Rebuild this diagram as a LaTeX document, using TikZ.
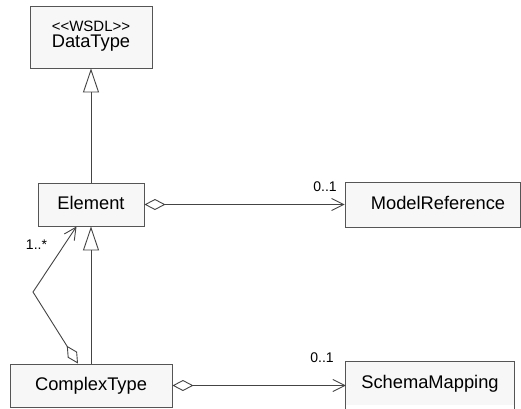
\documentclass[tikz,border=0pt]{standalone}
\usepackage{fontspec}
\setmainfont{Liberation Sans}
\usetikzlibrary{arrows.meta}
\definecolor{boxbg}{HTML}{F7F7F7}
\definecolor{edge}{HTML}{555555}
\definecolor{wire}{HTML}{444444}
\begin{document}
\begin{tikzpicture}[x=1pt,y=-1pt,
  classfont/.style={font=\fontsize{18.3}{21}\selectfont},
  classbox/.style={draw=edge, fill=boxbg, line width=0.9pt, inner sep=0pt,
    classfont, text height=13.5pt, text depth=4pt},
  openbox/.style={fill=boxbg, inner sep=0pt,
    classfont, text height=13.5pt, text depth=4pt},
  mult/.style={inner sep=0pt, font=\fontsize{14}{16}\selectfont},
  wireline/.style={draw=wire, line width=0.9pt},
  generalize/.style={wireline, -{Triangle[open, length=24pt, width=16pt]}},
  aggregate/.style={wireline, {Diamond[open, length=21pt, width=11pt]}-{Straight Barb[length=12pt, width=12pt]}}
]
\useasboundingbox[fill=white] (0,0) rectangle (521,408);

% classes
\node[classbox, minimum width=122pt, minimum height=62pt] (dt) at (91,37) {};
\node[mult, font=\fontsize{15}{17}\selectfont] (dtst) at (91,26) {<{}<WSDL>{}>};
\node[inner sep=0pt, classfont] (dtname) at (91,43.5) {DataType};

\node[classbox, minimum width=106pt, minimum height=43pt] (el) at (91,204.5) {Element};
\node[classbox, minimum width=162pt, minimum height=43pt] (ct) at (91,385.5) {ComplexType};
\node[classbox, minimum width=175pt, minimum height=45pt] (mr) at (432.5,204.5) {\hspace*{11pt}ModelReference};

% open-bottomed class running off the page
\node[openbox, minimum width=168pt, minimum height=43pt] (sm) at (430,383.5) {SchemaMapping};
\draw[draw=edge, line width=0.9pt] ([yshift=-12pt]sm.south west) -- (sm.north west)
  -- (sm.north east) -- ([yshift=-12pt]sm.south east);

% generalizations
\draw[generalize] (el.north) -- (dt.south);
\draw[generalize] (ct.north) -- (el.south);

% aggregations
\draw[aggregate] (el.east) -- (mr.west);
\draw[aggregate] (ct.east) -- (ct.east -| sm.west);
\coordinate (bend) at (33,292);
\draw[aggregate] ([xshift=-13pt]ct.north) -- (bend) -- ([xshift=-14.5pt]el.south);

% multiplicities
\node[mult] (m1) at (325,187) {0..1};
\node[mult] (m2) at (322,358) {0..1};
\node[mult] (m3) at (36.5,245) {1..*};
\end{tikzpicture}
\end{document}
